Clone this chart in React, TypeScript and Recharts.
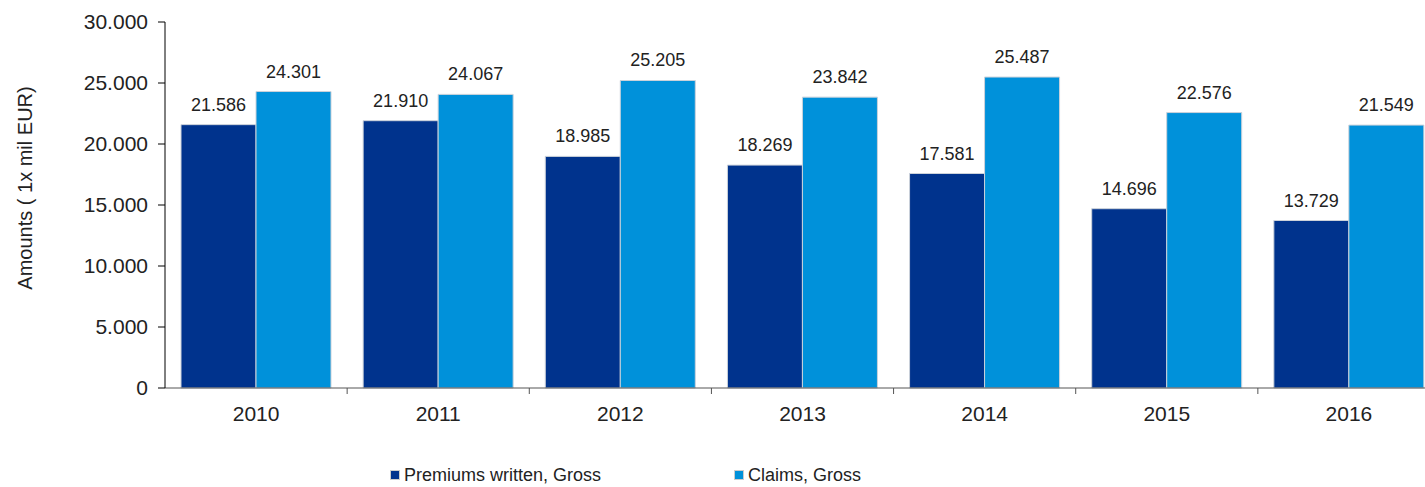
import { Bar, BarChart, LabelList, Legend, XAxis, YAxis } from "recharts";

const years = ["2010", "2011", "2012", "2013", "2014", "2015", "2016"];
const premiumsGross = [21586, 21910, 18985, 18269, 17581, 14696, 13729];
const claimsGross = [24301, 24067, 25205, 23842, 25487, 22576, 21549];
const yTicks = [0, 5000, 10000, 15000, 20000, 25000, 30000];

const DARK = "#00338d";
const LIGHT = "#0091da";
const FONT = "'Liberation Sans', Arial, sans-serif";

const CHART_W = 1445;
const CHART_H = 487;
const MARGIN = { top: 22, right: 5, left: 0, bottom: 49 };
const Y_W = 165;
const PLOT_W = CHART_W - MARGIN.left - MARGIN.right - Y_W;
const HALF_STEP = PLOT_W / years.length / 2;

const rows = years.map((year, i) => ({
  year,
  premiums: premiumsGross[i],
  claims: claimsGross[i],
}));

// 21586 -> "21.586"
const fmt = (v: number) => String(v).replace(/\B(?=(\d{3})+(?!\d))/g, ".");

function YearTick(props: any) {
  const { x, y, payload } = props;
  return (
    <g>
      <line x1={x + HALF_STEP} x2={x + HALF_STEP} y1={y - 8} y2={y - 2} stroke="#555" />
      <text x={x} y={y + 25} textAnchor="middle" fontSize={21} fill="#222" fontFamily={FONT}>
        {payload.value}
      </text>
    </g>
  );
}

function LegendBox() {
  const items = [
    { name: "Premiums written, Gross", color: DARK, left: 390 },
    { name: "Claims, Gross", color: LIGHT, left: 734 },
  ];
  return (
    <div style={{ position: "relative", height: 20, fontFamily: FONT, fontSize: 18, color: "#222" }}>
      {items.map((it) => (
        <div
          key={it.name}
          style={{ position: "absolute", left: it.left, top: 0, display: "flex", alignItems: "center", height: 20 }}
        >
          <span
            style={{
              width: 8,
              height: 8,
              background: it.color,
              border: "1px solid #ccc",
              marginRight: 4,
              display: "inline-block",
            }}
          />
          <span>{it.name}</span>
        </div>
      ))}
    </div>
  );
}

export default function App() {
  return (
    <div
      style={{
        position: "absolute",
        left: 0,
        top: 0,
        width: 1425,
        height: 487,
        overflow: "hidden",
        background: "#fff",
      }}
    >
      <BarChart width={CHART_W} height={CHART_H} data={rows} margin={MARGIN} barGap={0}>
        <XAxis
          dataKey="year"
          height={30}
          stroke="#555"
          tickLine={false}
          tick={<YearTick />}
        />
        <YAxis
          width={Y_W}
          domain={[0, 30000]}
          ticks={yTicks}
          stroke="#000"
          tickSize={7}
          tickMargin={10}
          tickFormatter={fmt}
          tick={{ fontSize: 21, fill: "#222", fontFamily: FONT }}
          label={{
            value: "Amounts ( 1x mil EUR)",
            angle: -90,
            position: "insideLeft",
            offset: 0,
            dx: 25,
            dy: -17,
            style: { fontSize: 20, fill: "#222", fontFamily: FONT, textAnchor: "middle" },
          }}
        />
        <Legend
          verticalAlign="bottom"
          content={<LegendBox />}
          wrapperStyle={{ position: "absolute", top: 465, left: 0, width: 1425 }}
        />
        <Bar dataKey="premiums" name="Premiums written, Gross" fill={DARK} stroke="#ccd2da" strokeWidth={1} barSize={75} isAnimationActive={false}>
          <LabelList dataKey="premiums" position="top" offset={14} formatter={(v: any) => fmt(v)} style={{ fontSize: 18, fill: "#222", fontFamily: FONT }} />
        </Bar>
        <Bar dataKey="claims" name="Claims, Gross" fill={LIGHT} stroke="#ccd2da" strokeWidth={1} barSize={75} isAnimationActive={false}>
          <LabelList dataKey="claims" position="top" offset={14} formatter={(v: any) => fmt(v)} style={{ fontSize: 18, fill: "#222", fontFamily: FONT }} />
        </Bar>
      </BarChart>
    </div>
  );
}
